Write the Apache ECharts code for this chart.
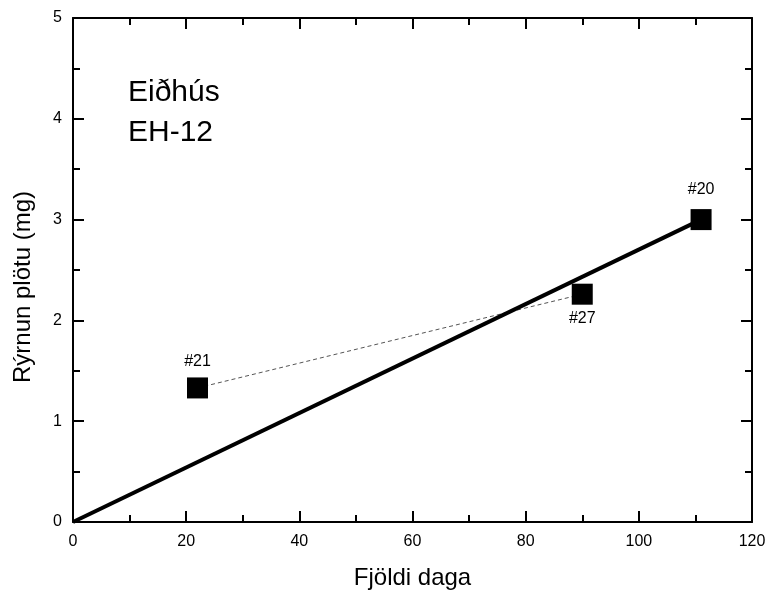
<!DOCTYPE html>
<html>
<head>
<meta charset="utf-8">
<script src="https://cdn.jsdelivr.net/npm/echarts@6/dist/echarts.min.js"></script>
<style>
  html, body { margin: 0; padding: 0; background: #fff; }
  #chart { width: 770px; height: 596px; }
</style>
</head>
<body>
<div id="chart"></div>
<script>
// plate samples: days vs weight loss
var sampleNames = ['#21', '#27', '#20'];
var sampleDays = [22, 90, 111];
var sampleLoss = [1.33, 2.26, 3.0];
var labelPos = ['top', 'bottom', 'top'];
var labelGap = [8, 6, 12];

// fitted line through origin
var fitDays = [0, 111];
var fitLoss = [0, 3.0];

// thin line joining #21 and #27
var linkDays = [22, 90];
var linkLoss = [1.33, 2.26];

var xTicks = [0, 20, 40, 60, 80, 100, 120];
var yTicks = [0, 1, 2, 3, 4, 5];

var font = '"Liberation Sans", Arial, sans-serif';

var chart = echarts.init(document.getElementById('chart'));

var axisCommon = {
	type: 'value',
	axisLine: { show: true, onZero: false, lineStyle: { color: '#000', width: 2 } },
	axisTick: { show: true, inside: true, length: 11, lineStyle: { color: '#000', width: 2 } },
	minorTick: { show: true, splitNumber: 2, length: 7, lineStyle: { color: '#000', width: 2 } },
	splitLine: { show: false }
};

var option = {
	animation: false,
	backgroundColor: '#fff',
	grid: { left: 73, right: 18, top: 18, bottom: 74 },
	xAxis: [
		Object.assign({}, axisCommon, {
			position: 'bottom',
			min: xTicks[0], max: xTicks[xTicks.length - 1], interval: 20,
			name: 'Fjöldi daga',
			nameLocation: 'middle',
			nameGap: 44,
			nameTextStyle: { color: '#000', fontSize: 24, fontFamily: font },
			axisLabel: { color: '#000', fontSize: 16, fontFamily: font, margin: 12 }
		}),
		Object.assign({}, axisCommon, {
			position: 'top',
			min: xTicks[0], max: xTicks[xTicks.length - 1], interval: 20,
			axisLabel: { show: false }
		})
	],
	yAxis: [
		Object.assign({}, axisCommon, {
			position: 'left',
			min: yTicks[0], max: yTicks[yTicks.length - 1], interval: 1,
			name: 'Rýrnun plötu (mg)',
			nameLocation: 'middle',
			nameGap: 38,
			nameTextStyle: { color: '#000', fontSize: 24, fontFamily: font, padding: [0, 34, 0, 0] },
			axisLabel: { color: '#000', fontSize: 16, fontFamily: font, margin: 11 }
		}),
		Object.assign({}, axisCommon, {
			position: 'right',
			min: yTicks[0], max: yTicks[yTicks.length - 1], interval: 1,
			axisLabel: { show: false }
		})
	],
	graphic: [
		{
			type: 'text', left: 128, top: 73,
			style: { text: 'Eiðhús\nEH-12', fill: '#000', font: '30px ' + font, lineHeight: 40 }
		}
	],
	series: [
		{
			type: 'line',
			data: linkDays.map(function (d, i) { return [d, linkLoss[i]]; }),
			showSymbol: false,
			lineStyle: { color: '#555', width: 1, type: [4, 3] },
			z: 1
		},
		{
			type: 'line',
			data: fitDays.map(function (d, i) { return [d, fitLoss[i]]; }),
			showSymbol: false,
			lineStyle: { color: '#000', width: 4 },
			z: 2
		},
		{
			type: 'scatter',
			symbol: 'rect',
			symbolSize: 21,
			itemStyle: { color: '#000', opacity: 1 },
			data: sampleDays.map(function (d, i) {
				return {
					value: [d, sampleLoss[i]],
					name: sampleNames[i],
					label: {
						show: true,
						position: labelPos[i],
						distance: labelGap[i],
						formatter: sampleNames[i],
						color: '#000',
						fontSize: 16,
						fontFamily: font
					}
				};
			}),
			z: 3
		}
	]
};

chart.setOption(option);
</script>
</body>
</html>
